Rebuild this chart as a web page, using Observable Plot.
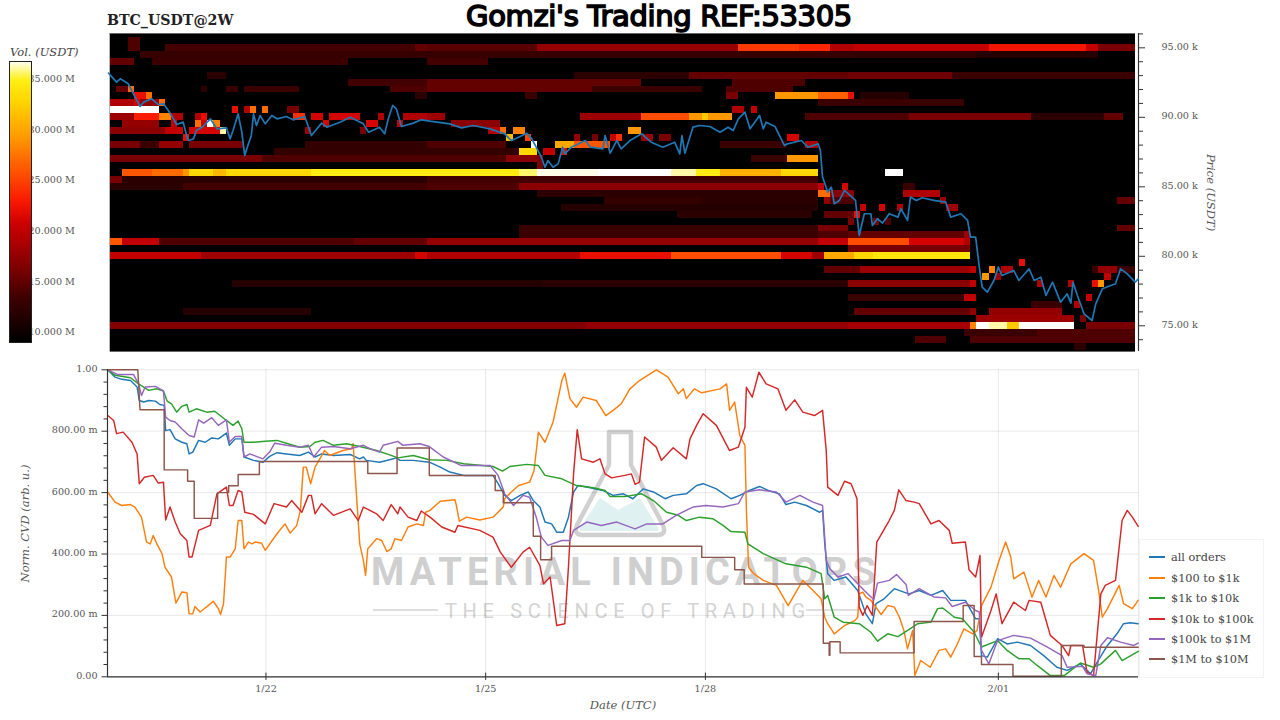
<!DOCTYPE html>
<html><head><meta charset="utf-8">
<script src="https://cdn.jsdelivr.net/npm/d3@7"></script>
<script src="https://cdn.jsdelivr.net/npm/@observablehq/plot@0.6"></script>
<style>
html,body{margin:0;padding:0;background:#fff;}
#page{position:relative;width:1280px;height:720px;overflow:hidden;font-family:"DejaVu Serif",serif;color:#444;}
#page>*{position:absolute;}
#title{left:459px;top:0;width:400px;text-align:center;font:400 29px "DejaVu Sans",sans-serif;letter-spacing:-.35px;color:#000;-webkit-text-stroke:1.6px #000;white-space:nowrap;line-height:32px;}
#ticker{left:107px;top:12px;font:bold 14.2px "DejaVu Serif",serif;color:#222;white-space:nowrap;}
#vollabel{left:10px;top:45px;font:italic 11.5px "DejaVu Serif",serif;color:#444;white-space:nowrap;}
#legend{left:1139px;top:539px;width:123px;height:137px;border:1px solid #f3f3f3;box-sizing:content-box;font-size:11.3px;color:#444;}
.li{position:absolute;left:9px;height:14px;display:flex;align-items:center;white-space:nowrap;}
.sw{width:16px;height:2px;margin-right:6px;display:inline-block;}
svg{overflow:visible;}
</style></head><body>
<div id="page">
<svg id="mark" width="1280" height="720" style="left:0;top:0" font-family="Roboto, sans-serif">
  <path d="M600 498 L618 510 L640 498 L658 528 Q660 531 656 531 L582 531 Q578 531 580 528 Z" fill="#dff1f1"/>
  <path d="M609 432 H631 V465 L663 525 Q667 535 657 535 H583 Q573 535 577 525 L609 465 Z" fill="none" stroke="#d0d0d0" stroke-width="4.5" stroke-linejoin="round"/>
  <text x="371" y="585" font-size="38" font-weight="700" fill="#cfcfcf" textLength="505" lengthAdjust="spacing">MATERIAL INDICATORS</text>
  <text x="445" y="618" font-size="20" font-weight="400" fill="#d4d4d4" textLength="360" lengthAdjust="spacing">THE SCIENCE OF TRADING</text>
  <line x1="373" x2="438" y1="610" y2="610" stroke="#d4d4d4" stroke-width="1.5"/>
  <line x1="806" x2="860" y1="610" y2="610" stroke="#d4d4d4" stroke-width="1.5"/>
</svg>
<div id="top" style="left:0;top:0"></div>
<div id="bottom" style="left:0;top:360px"></div>
<div id="bar" style="left:0;top:0"></div>
<div id="title">Gomzi's Trading REF:53305</div>
<div id="ticker">BTC_USDT@2W</div>
<div id="vollabel">Vol. (USDT)</div>
<div id="legend"></div>
</div>
<script>
// ---- series names and colours
const seriesNames = ["all orders","$100 to $1k","$1k to $10k","$10k to $100k","$100k to $1M","$1M to $10M"];
const seriesColors = ["#1f77b4","#ff7f0e","#2ca02c","#d62728","#9467bd","#8c564b"];
// ---- time: days relative to 22 Jan
const dayDomain = [-2.164, 11.914];
const binOrigin = -2.127, binsPerDay = 12, binCount = 168;
const dateTicks = [0,3,6,10];
// ---- price / norm axes
const priceDomain = [73150, 96030];
const priceTicks = [75000,80000,85000,90000,95000];
const priceMinor = [74000,76000,77000,78000,79000,81000,82000,83000,84000,86000,87000,88000,89000,91000,92000,93000,94000,96000];
const cvdTicks = [0,.2,.4,.6,.8,1];
const cvdMinor = [.04,.08,.12,.16,.24,.28,.32,.36,.44,.48,.52,.56,.64,.68,.72,.76,.84,.88,.92,.96];
// ---- colour bar
const volDomain = [9, 36.7];
const volTicks = [10,15,20,25,30,35];
const hotPositions = [0,.15,.27,.42,.5,.62,.72,.85,.93,1];
const hotColors = ["#000000","#3c0000","#820000","#cd0000","#fa1900","#ff5a00","#ff9600","#ffd200","#fff014","#ffffff"];
// ---- price line [day, USDT k]
const priceLine = [[-2.15,93.18],[-2.08,92.77],[-2.04,92.53],[-1.99,92.77],[-1.88,92.41],[-1.81,91.69],[-1.72,90.78],[-1.67,91.09],[-1.56,91.33],[-1.47,90.92],[-1.40,90.97],[-1.35,90.61],[-1.29,90.13],[-1.22,89.48],[-1.13,89.65],[-1.09,88.81],[-1.06,88.33],[-.99,88.45],[-.95,89.05],[-.86,89.34],[-.76,89.89],[-.67,89.17],[-.54,89.24],[-.49,88.45],[-.45,89.05],[-.38,90.25],[-.33,88.93],[-.29,87.25],[-.24,88.09],[-.20,88.69],[-.17,90.25],[-.13,89.41],[-.08,90.13],[-.01,89.53],[.08,90.13],[.15,89.89],[.28,90.06],[.37,89.82],[.53,90.06],[.62,88.69],[.76,89.58],[.83,89.29],[1.01,89.65],[1.15,90.01],[1.33,89.53],[1.40,88.93],[1.55,89.29],[1.62,88.81],[1.67,89.89],[1.73,90.85],[1.78,90.61],[1.85,89.34],[2.01,89.58],[2.12,89.82],[2.24,89.72],[2.51,89.53],[2.67,89.24],[2.83,89.41],[3.06,89.17],[3.26,88.81],[3.35,88.33],[3.45,88.57],[3.56,88.86],[3.63,88.45],[3.69,87.85],[3.76,87.13],[3.81,86.41],[3.85,86.89],[3.92,86.41],[3.99,86.65],[4.05,87.85],[4.08,87.37],[4.17,87.85],[4.36,88.33],[4.43,87.85],[4.60,87.73],[4.63,88.69],[4.70,87.42],[4.79,88.33],[4.85,87.73],[4.97,88.33],[5.13,88.81],[5.26,88.21],[5.42,87.85],[5.58,88.21],[5.65,87.37],[5.68,88.69],[5.72,87.42],[5.83,89.29],[5.92,89.41],[6.06,89.34],[6.20,88.93],[6.31,89.29],[6.38,89.05],[6.45,89.89],[6.54,90.37],[6.61,89.17],[6.74,90.13],[6.79,89.17],[6.83,89.65],[6.95,89.34],[7.08,87.97],[7.12,88.09],[7.31,88.33],[7.40,87.85],[7.54,88.09],[7.57,87.61],[7.60,85.70],[7.67,84.62],[7.72,84.98],[7.76,83.78],[7.83,84.02],[7.90,84.74],[8.05,84.02],[8.10,81.50],[8.17,83.06],[8.26,83.06],[8.28,82.22],[8.35,82.70],[8.42,82.39],[8.51,83.06],[8.63,82.82],[8.67,83.42],[8.76,82.58],[8.80,84.26],[8.88,84.02],[8.96,84.21],[9.12,84.02],[9.28,83.90],[9.35,82.82],[9.49,83.06],[9.58,82.58],[9.62,81.38],[9.69,81.38],[9.74,79.22],[9.78,77.78],[9.85,77.42],[9.94,78.26],[10.00,79.22],[10.05,78.62],[10.21,78.98],[10.28,78.26],[10.42,79.10],[10.49,78.26],[10.58,78.50],[10.65,77.18],[10.74,78.14],[10.85,76.70],[10.94,77.30],[10.99,76.63],[11.02,78.14],[11.08,77.18],[11.17,75.86],[11.28,75.38],[11.33,76.58],[11.42,77.66],[11.60,78.02],[11.67,79.10],[11.76,78.74],[11.87,78.14],[11.91,78.38]];
// ---- order-book heat: [price k, first 2h bin, end bin, volume M]
const heatRuns = [
[95.5,3,5,14],
[95,3,5,14],[95,9,50,13.5],[95,50,52,15],[95,52,70,14.5],[95,70,103,17.5],[95,103,113,24.5],[95,113,118,23.5],[95,118,122,19],[95,122,144,20],[95,144,160,22.5],[95,160,162,20],[95,162,168,16],
[94.5,5,122,12.8],[94.5,122,142,12.5],[94.5,142,162,11.5],
[94,0,4,15],[94,7,39,13],[94,52,62,13.5],
[93,16,19,12],[93,76,95,12],[93,95,121,15],[93,121,138,15.5],[93,138,168,13],
[92.5,39,52,13.5],[92.5,52,87,15],[92.5,102,114,14],
[92,1,3,15],[92,3,4,27],[92,15,16,12],[92,19,21,13],[92,22,31,13],[92,46,52,14],[92,52,79,15],[92,79,97,13],[92,101,112,14],
[91.5,4,6,22],[91.5,6,7,27],[91.5,50,52,12],[91.5,68,70,13],[91.5,101,103,16],[91.5,109,116,29],[91.5,116,121,26.5],[91.5,121,122,22],[91.5,123,131,11.5],
[91,0,4,19],[91,4,5,21],[91,5,8,17.5],[91,8,9,27],[91,116,121,13],[91,121,140,13],
[90.5,0,8,37],[90.5,20,21,22],[90.5,22,23,19],[90.5,23,24,27],[90.5,25,26,27],[90.5,29,31,16],[90.5,102,104,19],[90.5,105,106,20],
[90,0,4,18],[90,4,8,23],[90,8,10,28],[90,10,12,19],[90,14,15,19],[90,15,16,22],[90,30,32,24],[90,33,35,21],[90,36,41,21],[90,44,45,19],[90,48,52,19],[90,52,55,18],[90,77,87,18],[90,87,95,25.5],[90,95,97,29],[90,97,98,32],[90,98,102,29],[90,114,131,14],[90,131,151,16],[90,151,163,12],[90,163,166,15],
[89.5,2,8,17.5],[89.5,10,11,20],[89.5,14,15,27],[89.5,15,16,20],[89.5,16,17,37],[89.5,17,18,28],[89.5,35,36,21],[89.5,42,44,21],[89.5,47,48,20],[89.5,56,64,17],
[89,0,9,17],[89,9,12,20],[89,13,18,21],[89,18,19,36],[89,32,33,18],[89,41,42,16],[89,62,64,19],[89,64,65,27],[89,66,68,28],[89,85,87,29],
[88.5,12,13,22],[88.5,65,66,31],[88.5,68,69,25],[88.5,76,77,17.5],[88.5,79,80,16],[88.5,82,83,20],[88.5,83,84,24],[88.5,87,89,18],[88.5,90,92,16],[88.5,111,113,21],
[88,0,5,16],[88,5,8,13],[88,8,12,17.5],[88,13,22,16],[88,32,52,12.5],[88,52,65,14],[88,69,70,37],[88,73,76,30],[88,76,82,26],[88,100,111,13],[88,114,116,19],
[87.5,27,67,12.5],[87.5,67,70,33],[87.5,71,73,20],[87.5,74,75,22],
[87,0,25,16],[87,25,65,14],[87,65,70,17],[87,70,71,16],[87,105,111,13],[87,111,116,29],
[86.5,70,71,16],
[86,2,7,26],[86,7,12,27],[86,12,13,29],[86,13,17,33],[86,17,19,31],[86,19,33,33],[86,33,67,34.5],[86,67,70,35.5],[86,70,80,36.5],[86,80,92,37],[86,92,96,36],[86,96,100,34.5],[86,100,110,30.5],[86,110,116,33],[86,127,130,37],
[85.5,0,2,16],[85.5,2,52,12],[85.5,52,116,13.5],
[85,0,12,12],[85,12,52,13.5],[85,52,67,14],[85,67,116,17],[85,116,117,20],[85,120,121,21],[85,130,132,13],
[84.5,70,116,12],[84.5,116,118,27],[84.5,118,122,17],[84.5,130,136,19],
[84,81,97,12.5],[84,97,116,12],[84,117,118,17.5],[84,118,122,14],[84,136,137,18],[84,165,168,15],
[83.5,74,116,11.5],[83.5,123,124,20],[83.5,126,127,21],[83.5,129,130,19],[83.5,137,139,18],
[83,93,115,12],[83,117,122,15],[83,122,123,22],
[82.5,121,122,16],[82.5,125,126,16],[82.5,127,128,14],
[82,67,116,13],[82,116,121,16],[82,165,168,15],
[81.5,67,116,13],[81.5,116,121,14],[81.5,121,140,15],[81.5,140,141,18],
[81,0,2,26],[81,2,8,20],[81,8,40,14],[81,40,52,15],[81,52,116,17.5],[81,116,121,20],[81,121,131,25.5],[81,131,140,21],[81,140,141,19],
[80.5,121,141,16],
[80,0,15,20],[80,15,50,18],[80,50,52,21],[80,52,77,19],[80,77,92,22],[80,92,110,25.5],[80,110,115,21],[80,115,117,18],[80,117,122,30],[80,122,125,33],[80,125,141,34],
[79.5,149,150,22],
[79,117,123,15],[79,123,141,18],[79,141,142,20],[79,144,145,28],[79,146,148,19],[79,161,162,13],[79,162,165,17.5],[79,165,168,13],
[78.5,143,144,29],[78.5,145,146,18],[78.5,163,164,20],
[78,20,71,11.5],[78,71,121,12],[78,121,141,17],[78,141,142,20],[78,152,153,19],[78,157,158,19],[78,161,162,22],[78,162,163,29],
[77,121,140,13],[77,140,142,20],[77,160,161,20],
[76.5,151,156,13],[76.5,158,159,19],
[76,12,33,11.5],[76,122,141,15],[76,141,142,17.5],[76,144,156,17.5],
[75.5,142,158,18],[75.5,159,160,16],
[75,0,78,16.5],[75,78,121,17.5],[75,121,141,18.5],[75,141,142,28],[75,142,144,37],[75,144,147,36],[75,147,149,32],[75,149,158,37],[75,160,168,16],
[74.5,140,152,13],[74.5,152,168,14],
[74,132,137,14],[74,141,168,14],
[73.5,158,160,12]
];
// ---- normalized CVD [day, value]
const allOrders = [[-2.16,1],[-2.06,.976],[-1.97,.969],[-1.85,.965],[-1.76,.944],[-1.73,.9],[-1.67,.895],[-1.6,.9],[-1.51,.898],[-1.45,.887],[-1.39,.884],[-1.37,.802],[-1.31,.805],[-1.24,.775],[-1.15,.764],[-1.08,.759],[-1.05,.726],[-1,.732],[-.92,.77],[-.83,.764],[-.74,.778],[-.65,.775],[-.54,.794],[-.5,.754],[-.42,.775],[-.33,.775],[-.3,.716],[-.17,.705],[-.04,.699],[.05,.718],[.15,.73],[.28,.726],[.46,.721],[.58,.732],[.67,.716],[.76,.726],[.92,.721],[1.15,.724],[1.28,.71],[1.33,.716],[1.37,.705],[1.55,.699],[1.69,.707],[1.78,.713],[1.83,.705],[2.01,.705],[2.23,.699],[2.38,.683],[2.51,.667],[2.7,.656],[3.1,.656],[3.17,.629],[3.26,.591],[3.35,.574],[3.47,.591],[3.58,.602],[3.65,.574],[3.74,.553],[3.81,.504],[3.9,.498],[3.97,.471],[4.06,.471],[4.13,.52],[4.2,.602],[4.26,.623],[4.38,.618],[4.6,.607],[4.74,.591],[4.88,.596],[5.01,.58],[5.15,.612],[5.29,.602],[5.45,.58],[5.56,.591],[5.74,.596],[5.88,.623],[5.97,.629],[6.15,.612],[6.35,.58],[6.47,.591],[6.6,.607],[6.74,.62],[6.88,.605],[7.01,.596],[7.1,.561],[7.22,.569],[7.38,.558],[7.56,.536],[7.6,.542],[7.63,.433],[7.67,.336],[7.76,.314],[7.92,.325],[8.08,.281],[8.19,.205],[8.28,.173],[8.33,.238],[8.44,.254],[8.58,.287],[8.71,.276],[8.78,.27],[8.92,.281],[9.08,.265],[9.24,.281],[9.35,.249],[9.55,.249],[9.69,.189],[9.74,.189],[9.77,.069],[9.85,.064],[9.99,.124],[10.12,.107],[10.26,.113],[10.44,.102],[10.62,.069],[10.8,.031],[10.94,.021],[11.12,.042],[11.26,.01],[11.35,.048],[11.49,.102],[11.62,.14],[11.71,.173],[11.8,.176],[11.91,.173]];
const orders100to1k = [[-2.16,.601],[-2.06,.569],[-1.97,.558],[-1.85,.561],[-1.79,.553],[-1.7,.52],[-1.63,.439],[-1.58,.433],[-1.54,.46],[-1.49,.433],[-1.42,.401],[-1.38,.357],[-1.29,.325],[-1.23,.24],[-1.15,.276],[-1.08,.274],[-1.05,.205],[-1,.205],[-.97,.229],[-.9,.211],[-.79,.232],[-.72,.246],[-.65,.222],[-.62,.203],[-.58,.238],[-.54,.39],[-.49,.39],[-.42,.417],[-.38,.509],[-.33,.509],[-.3,.417],[-.24,.439],[-.19,.433],[-.15,.439],[-.06,.435],[-.01,.412],[.15,.466],[.26,.498],[.33,.468],[.42,.493],[.47,.542],[.51,.683],[.55,.683],[.61,.629],[.67,.683],[.8,.737],[.87,.721],[1.05,.737],[1.17,.743],[1.19,.759],[1.28,.433],[1.33,.379],[1.36,.33],[1.39,.417],[1.51,.45],[1.58,.444],[1.65,.408],[1.71,.417],[1.76,.45],[1.85,.444],[1.94,.488],[2.06,.498],[2.15,.493],[2.18,.536],[2.24,.542],[2.38,.572],[2.58,.577],[2.6,.558],[2.64,.507],[2.74,.52],[2.92,.511],[3.1,.52],[3.24,.553],[3.26,.58],[3.35,.602],[3.45,.623],[3.6,.634],[3.66,.672],[3.72,.797],[3.81,.764],[3.92,.83],[4.04,.965],[4.08,.989],[4.15,.906],[4.24,.878],[4.33,.911],[4.51,.9],[4.64,.851],[4.74,.868],[4.85,.889],[4.97,.938],[5.1,.965],[5.33,1],[5.49,.976],[5.63,.922],[5.7,.938],[5.74,.906],[5.85,.938],[5.95,.925],[6.2,.938],[6.29,.954],[6.33,.868],[6.4,.895],[6.47,.786],[6.54,.754],[6.56,.542],[6.59,.357],[6.66,.336],[6.79,.314],[6.97,.298],[7.13,.232],[7.33,.314],[7.47,.281],[7.58,.254],[7.63,.194],[7.67,.173],[7.76,.14],[7.9,.167],[8.04,.183],[8.08,.194],[8.1,.27],[8.15,.276],[8.19,.26],[8.26,.249],[8.4,.203],[8.49,.232],[8.58,.227],[8.65,.194],[8.71,.151],[8.76,.091],[8.83,.151],[8.86,.004],[8.94,.053],[9.07,.031],[9.19,.086],[9.28,.091],[9.35,.064],[9.44,.107],[9.53,.156],[9.65,.14],[9.71,.151],[9.77,.232],[9.9,.292],[10.01,.379],[10.1,.439],[10.17,.39],[10.21,.319],[10.35,.341],[10.46,.26],[10.55,.314],[10.65,.26],[10.76,.33],[10.85,.292],[10.99,.368],[11.17,.401],[11.3,.379],[11.37,.281],[11.42,.194],[11.49,.222],[11.65,.298],[11.71,.238],[11.83,.222],[11.91,.249]];
const orders1kto10k = [[-2.16,1],[-2.06,.982],[-1.85,.974],[-1.74,.954],[-1.6,.933],[-1.49,.938],[-1.4,.931],[-1.35,.898],[-1.29,.889],[-1.22,.862],[-1.15,.881],[-1.08,.887],[-1.05,.862],[-.95,.873],[-.81,.862],[-.7,.865],[-.54,.835],[-.45,.819],[-.38,.833],[-.33,.808],[-.3,.764],[-.17,.764],[-.01,.767],[.15,.77],[.3,.759],[.46,.748],[.6,.75],[.67,.764],[.78,.77],[.92,.754],[1.1,.759],[1.28,.75],[1.51,.737],[1.69,.723],[1.8,.713],[2.01,.721],[2.23,.707],[2.47,.705],[2.7,.694],[3.1,.685],[3.23,.67],[3.33,.685],[3.56,.692],[3.72,.688],[3.81,.656],[4.04,.645],[4.24,.623],[4.47,.616],[4.63,.607],[4.7,.587],[4.9,.587],[5.13,.596],[5.29,.574],[5.47,.536],[5.63,.526],[5.74,.509],[5.92,.52],[6.1,.515],[6.24,.493],[6.35,.473],[6.54,.471],[6.58,.433],[6.79,.401],[7.1,.368],[7.38,.357],[7.58,.336],[7.63,.254],[7.67,.265],[7.76,.194],[7.88,.178],[8.1,.173],[8.26,.145],[8.35,.116],[8.49,.14],[8.63,.131],[8.83,.162],[8.9,.173],[9.08,.178],[9.17,.222],[9.24,.224],[9.4,.194],[9.51,.189],[9.67,.145],[9.77,.097],[9.99,.118],[10.12,.086],[10.28,.059],[10.42,.059],[10.53,.037],[10.71,.004],[10.9,.004],[11.12,.045],[11.3,.031],[11.4,.042],[11.6,.086],[11.69,.053],[11.91,.083]];
const orders10kto100k = [[-2.16,.851],[-2.08,.835],[-2.04,.792],[-1.95,.797],[-1.83,.764],[-1.76,.726],[-1.73,.629],[-1.66,.65],[-1.54,.656],[-1.47,.631],[-1.4,.634],[-1.37,.511],[-1.31,.553],[-1.24,.504],[-1.17,.466],[-1.08,.444],[-1.05,.39],[-1.01,.39],[-.92,.477],[-.76,.493],[-.67,.596],[-.54,.618],[-.5,.558],[-.45,.558],[-.38,.607],[-.33,.602],[-.29,.536],[-.17,.529],[-.01,.498],[.11,.564],[.28,.553],[.35,.574],[.49,.536],[.58,.591],[.62,.591],[.67,.531],[.76,.564],[.92,.526],[1.15,.547],[1.26,.509],[1.33,.553],[1.51,.531],[1.6,.509],[1.71,.561],[1.8,.531],[1.83,.553],[1.94,.52],[2.06,.509],[2.12,.54],[2.24,.52],[2.4,.488],[2.58,.471],[2.62,.493],[2.92,.477],[3.1,.455],[3.2,.406],[3.35,.357],[3.51,.406],[3.6,.422],[3.74,.363],[3.79,.303],[3.88,.325],[3.97,.167],[4.08,.173],[4.13,.357],[4.2,.661],[4.25,.805],[4.31,.71],[4.47,.699],[4.56,.71],[4.63,.661],[4.72,.648],[4.9,.656],[4.99,.661],[5.04,.627],[5.1,.634],[5.17,.781],[5.33,.748],[5.4,.705],[5.56,.746],[5.74,.71],[5.79,.775],[5.88,.819],[5.97,.857],[6.15,.819],[6.33,.737],[6.45,.748],[6.54,.813],[6.56,.943],[6.64,.911],[6.73,.992],[6.83,.954],[6.99,.938],[7.1,.868],[7.22,.902],[7.33,.862],[7.49,.851],[7.6,.868],[7.65,.737],[7.67,.618],[7.81,.591],[7.9,.637],[7.99,.629],[8.07,.58],[8.1,.227],[8.15,.2],[8.21,.232],[8.28,.2],[8.34,.439],[8.51,.509],[8.58,.542],[8.64,.609],[8.74,.574],[8.85,.569],[8.92,.564],[9.08,.498],[9.19,.509],[9.33,.477],[9.37,.435],[9.55,.439],[9.6,.349],[9.69,.325],[9.75,.395],[9.77,.129],[9.9,.216],[9.97,.27],[10.05,.173],[10.21,.243],[10.37,.216],[10.42,.249],[10.58,.243],[10.71,.135],[10.87,.102],[10.96,.069],[10.99,.102],[11.15,.102],[11.21,.015],[11.3,.004],[11.4,.27],[11.46,.298],[11.6,.314],[11.69,.509],[11.76,.542],[11.83,.52],[11.91,.49]];
const orders100kto1M = [[-2.16,1],[-2.03,.985],[-1.81,.985],[-1.74,.954],[-1.7,.916],[-1.65,.944],[-1.51,.946],[-1.4,.931],[-1.37,.846],[-1.31,.835],[-1.24,.83],[-1.15,.808],[-1.05,.786],[-.98,.781],[-.92,.837],[-.85,.826],[-.74,.844],[-.65,.819],[-.54,.837],[-.5,.764],[-.42,.783],[-.33,.783],[-.3,.716],[-.22,.726],[-.04,.71],[.05,.732],[.12,.761],[.28,.754],[.46,.748],[.58,.754],[.65,.716],[.76,.748],[.92,.75],[1.15,.743],[1.33,.754],[1.42,.743],[1.55,.732],[1.6,.754],[1.8,.767],[1.87,.754],[2.1,.759],[2.23,.75],[2.42,.716],[2.67,.688],[3.06,.688],[3.17,.656],[3.26,.596],[3.38,.558],[3.51,.591],[3.6,.585],[3.69,.52],[3.76,.455],[3.85,.428],[4.04,.444],[4.15,.444],[4.2,.477],[4.38,.504],[4.58,.493],[4.79,.504],[5.04,.482],[5.2,.498],[5.42,.498],[5.6,.526],[5.83,.553],[6.01,.558],[6.24,.553],[6.45,.564],[6.54,.602],[6.74,.609],[6.97,.602],[7.1,.569],[7.29,.591],[7.47,.569],[7.6,.558],[7.65,.379],[7.7,.352],[7.81,.325],[7.95,.336],[8.08,.303],[8.17,.281],[8.3,.251],[8.35,.305],[8.51,.314],[8.61,.333],[8.74,.301],[8.77,.265],[8.92,.287],[9.12,.26],[9.28,.257],[9.37,.229],[9.55,.243],[9.69,.216],[9.74,.211],[9.77,.086],[9.87,.042],[9.99,.118],[10.21,.135],[10.44,.126],[10.67,.097],[10.87,.069],[10.94,.031],[11.15,.034],[11.21,.01],[11.33,.004],[11.4,.102],[11.49,.127],[11.67,.113],[11.85,.102],[11.91,.11]];
const orders1Mto10M = [[-2.16,1],[-1.75,1],[-1.72,.87],[-1.39,.87],[-1.39,.674],[-1.07,.674],[-1.07,.637],[-.98,.637],[-.98,.516],[-.66,.516],[-.66,.6],[-.51,.6],[-.51,.622],[-.38,.622],[-.38,.659],[-.09,.659],[-.09,.701],[1.39,.701],[1.39,.662],[1.79,.662],[1.79,.745],[2.23,.745],[2.23,.656],[3.13,.656],[3.13,.607],[3.24,.607],[3.24,.567],[3.65,.567],[3.65,.458],[3.75,.458],[3.75,.381],[3.9,.381],[3.9,.425],[5.95,.425],[5.95,.389],[6.4,.389],[6.4,.349],[6.53,.349],[6.53,.302],[7.61,.302],[7.61,.109],[7.69,.109],[7.69,.07],[7.7,.07],[7.7,.114],[7.84,.114],[7.84,.078],[8.85,.078],[8.85,.18],[9.52,.18],[9.52,.232],[9.67,.232],[9.67,.066],[9.77,.066],[9.77,.04],[10.2,.04],[10.2,.002],[10.86,.002],[10.86,.102],[11.17,.102],[11.17,.096],[11.91,.096]];
const cvdSeries = [allOrders,orders100to1k,orders1kto10k,orders10kto100k,orders100kto1M,orders1Mto10M];

// ---- helpers
const t0 = Date.UTC(2026,0,22);
const toDate = d => new Date(t0 + d*864e5);
const binDate = n => toDate(binOrigin + n/binsPerDay);
const xScale = {type:"utc", domain:dayDomain.map(toDate), range:[107,1138]};
const W = 1280, ML = 107, MR = 142;
const hotDomain = hotPositions.map(p => volDomain[0] + p*(volDomain[1]-volDomain[0]));
const colorScale = {type:"linear", domain:hotDomain, range:hotColors, clamp:true, interpolate:"rgb"};
const FONT = "'DejaVu Serif', serif";
const TXT = "#555", AX = "#333", TICK = "9.6px";

const heatRows = heatRuns.map(([p,a,b,v]) => ({y1:(p-.25)*1000, y2:(p+.25)*1000, x1:binDate(a), x2:binDate(b), v}));

const topPlot = Plot.plot({
  width:W, height:360, marginLeft:ML, marginRight:MR, marginTop:33, marginBottom:9,
  style:{background:"transparent", fontFamily:FONT, fontSize:TICK, overflow:"visible"},
  x:{...xScale, axis:null},
  y:{domain:priceDomain, range:[351,33]},
  color:colorScale,
  marks:[
    Plot.rect([{x1:binDate(0),x2:binDate(binCount),v:volDomain[0]}],{x1:"x1",x2:"x2",y1:()=>priceDomain[0],y2:()=>priceDomain[1],fill:"v"}),
    Plot.rect(heatRows,{x1:"x1",x2:"x2",y1:"y1",y2:"y2",fill:"v",shapeRendering:"crispEdges"}),
    Plot.ruleY(priceDomain,{x1:()=>binDate(0),x2:()=>binDate(binCount),stroke:"#666",strokeWidth:1}),
    Plot.ruleX([toDate(dayDomain[1])],{stroke:AX,strokeWidth:1.2}),
    Plot.axisY({anchor:"right",ticks:priceMinor,tickFormat:()=>"",tickSize:4,stroke:AX,label:null}),
    Plot.axisY({anchor:"right",ticks:priceTicks,tickFormat:()=>"",tickSize:6,stroke:AX,label:null}),
    Plot.axisY({anchor:"right",ticks:priceTicks,tickSize:0,tickPadding:23,dy:-1,fill:TXT,label:null,tickFormat:d=>(d/1000).toFixed(2)+" k"}),
    Plot.line(priceLine,{x:d=>toDate(d[0]),y:d=>d[1]*1000,stroke:seriesColors[0],strokeWidth:1.7,curve:"linear"}),
    Plot.text(["Price (USDT)"],{frameAnchor:"right",textAnchor:"middle",dx:72,rotate:90,fontStyle:"italic",fontSize:11.5,fill:TXT})
  ]
});
document.getElementById("top").append(topPlot);

const bottomPlot = Plot.plot({
  width:W, height:360, marginLeft:ML, marginRight:MR, marginTop:9, marginBottom:43,
  style:{background:"transparent", fontFamily:FONT, fontSize:TICK, overflow:"visible"},
  x:{...xScale, axis:null},
  y:{domain:[0,1], range:[316.3,9.3]},
  marks:[
    Plot.gridX(dateTicks.map(toDate),{stroke:"#000",strokeOpacity:.09}),
    Plot.ruleX([toDate(dayDomain[1])],{stroke:"#000",strokeOpacity:.09}),
    Plot.gridY(cvdTicks,{stroke:"#000",strokeOpacity:.09}),
    ...cvdSeries.map((s,i) => Plot.line(s,{x:d=>toDate(d[0]),y:d=>d[1],stroke:seriesColors[i],strokeWidth:1.45,curve:"linear"})),
    Plot.ruleY([0],{stroke:AX,strokeWidth:1.2}),
    Plot.ruleX([toDate(dayDomain[0])],{stroke:AX,strokeWidth:1.2}),
    Plot.axisY({anchor:"left",ticks:cvdMinor,tickFormat:()=>"",tickSize:3.5,stroke:AX,label:null}),
    Plot.axisY({anchor:"left",ticks:cvdTicks,tickFormat:()=>"",tickSize:5.5,stroke:AX,label:null}),
    Plot.axisY({anchor:"left",ticks:cvdTicks,tickSize:0,tickPadding:10,dy:-1,fill:TXT,label:null,tickFormat:d=>d===0||d===1?d.toFixed(2):(d*1000).toFixed(2)+" m"}),
    Plot.ruleX(dateTicks.map(toDate),{y1:()=>-0.012,y2:()=>0.012,stroke:AX,strokeWidth:1}),
    Plot.axisX({anchor:"bottom",ticks:dateTicks.map(toDate),tickSize:0,tickPadding:8,fill:TXT,label:null,tickFormat:d3.utcFormat("%-m/%d")}),
    Plot.text(["Date (UTC)"],{frameAnchor:"bottom",dy:31,fontStyle:"italic",fontSize:11.5,fill:TXT}),
    Plot.text(["Norm. CVD (arb. u.)"],{frameAnchor:"left",textAnchor:"middle",dx:-82,rotate:-90,fontStyle:"italic",fontSize:11.5,fill:TXT})
  ]
});
document.getElementById("bottom").append(bottomPlot);

const barRows = d3.range(volDomain[0],volDomain[1],0.1).map(v=>({v}));
const barPlot = Plot.plot({
  width:W, height:360, marginLeft:9, marginRight:W-31, marginTop:61, marginBottom:18,
  style:{background:"transparent", fontFamily:FONT, fontSize:TICK, overflow:"visible"},
  x:{domain:[0,1], axis:null},
  y:{domain:volDomain, range:[342,61]},
  color:colorScale,
  marks:[
    Plot.axisY({anchor:"right",ticks:volTicks,tickSize:0,tickPadding:-3,fill:TXT,label:null,tickFormat:d=>d.toFixed(3)+" M"}),
    Plot.rect(barRows,{x1:()=>0,x2:()=>1,y1:"v",y2:d=>Math.min(d.v+0.3,volDomain[1]),fill:"v",shapeRendering:"crispEdges"}),
    Plot.frame({stroke:"#222",strokeWidth:1})
  ]
});
document.getElementById("bar").append(barPlot);

const legend = document.getElementById("legend");
const legendTops = [10,31,51,72,92,112];
seriesNames.forEach((name,i)=>{
  const row = document.createElement("div");
  row.className = "li"; row.style.top = legendTops[i]+"px";
  row.innerHTML = `<span class="sw" style="background:${seriesColors[i]}"></span><span>${name}</span>`;
  legend.append(row);
});
</script>
</body></html>
